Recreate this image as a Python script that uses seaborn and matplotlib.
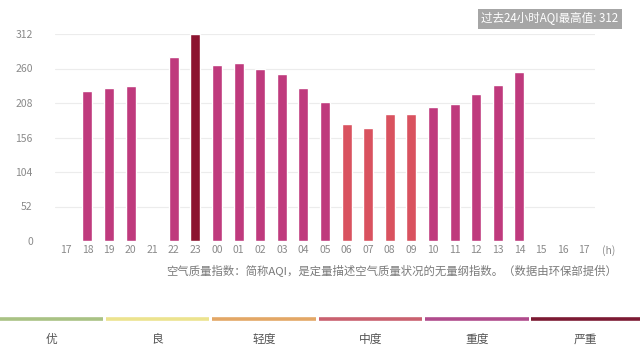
import numpy as np
import pandas as pd
import matplotlib
matplotlib.use("Agg")
import matplotlib.pyplot as plt
import seaborn as sns

# Hourly AQI over the last 24 hours (NaN = no reading)
hours = ["17", "18", "19", "20", "21", "22", "23", "00", "01", "02", "03", "04",
         "05", "06", "07", "08", "09", "10", "11", "12", "13", "14", "15", "16", "17"]
aqi = [np.nan, 226, 231, 233, np.nan, 277, 312, 265, 268, 260, 251, 231,
       210, 177, 170, 191, 191, 202, 207, 222, 235, 254, np.nan, np.nan, np.nan]

y_ticks = [0, 52, 104, 156, 208, 260, 312]

levels = ["优", "良", "轻度", "中度", "重度", "严重"]
level_colors = ["#a9c284", "#ece38e", "#e3a766", "#c9616f", "#b04b8c", "#7c1a33"]
bar_colors = {"中度": "#d9525f", "重度": "#bf3a7d", "严重": "#8c1430"}

note = "空气质量指数：简称AQI，是定量描述空气质量状况的无量纲指数。（数据由环保部提供）"
peak_label = "过去24小时AQI最高值: 312"


def level_of(v):
    if v > 300:
        return "严重"
    if v > 200:
        return "重度"
    return "中度"


df = pd.DataFrame({"slot": range(len(hours)), "aqi": aqi})
df["level"] = [level_of(v) if not np.isnan(v) else "中度" for v in aqi]

sns.set_style("white")
plt.rcParams["font.family"] = ["Noto Sans CJK SC", "DejaVu Sans"]

fig = plt.figure(figsize=(6.4, 3.45), dpi=100)
ax = fig.add_axes([55 / 640, 1 - 241 / 345, 540 / 640, 207 / 345])

for y in y_ticks[1:]:
    ax.axhline(y, color="#ececec", lw=0.8, zorder=0)

sns.barplot(data=df, x="slot", y="aqi", hue="level", palette=bar_colors,
            order=list(range(len(hours))), dodge=False, width=0.46,
            saturation=1, legend=False, ax=ax, zorder=2)

ax.set_xlim(-0.5, 24.5)
ax.set_ylim(0, 312)
ax.set_yticks(y_ticks)
ax.set_yticklabels([str(t) for t in y_ticks], fontsize=7.5, color="#8a8a8a")
ax.set_xticks(range(len(hours)))
ax.set_xticklabels(hours, fontsize=7.5, color="#8a8a8a")
ax.tick_params(axis="both", length=0)
ax.tick_params(axis="x", pad=3)
ax.tick_params(axis="y", pad=16)
ax.set_xlabel("")
ax.set_ylabel("")
for s in ax.spines.values():
    s.set_visible(False)

fig.text(609 / 640, 1 - 251 / 345, "(h)", fontsize=7.5, color="#8a8a8a",
         ha="center", va="center")

# peak value badge
fig.text(550 / 640, 1 - 19 / 345, peak_label, fontsize=8.3, color="white",
         ha="center", va="center",
         bbox=dict(boxstyle="square,pad=0.3", fc="#a6a6a6", ec="none"))

fig.text(617 / 640, 1 - 270 / 345, note, fontsize=8.2, color="#7a7a7a",
         ha="right", va="center")

# AQI level scale along the bottom
lax = fig.add_axes([0, 0, 1, 1], facecolor="none")
lax.set_xlim(0, 640)
lax.set_ylim(345, 0)
lax.axis("off")
segments = [(0, 103), (106, 209), (212, 316), (319, 422), (425, 529), (531, 640)]
for (x0, x1), c, name in zip(segments, level_colors, levels):
    lax.plot([x0, x1], [319, 319], color=c, lw=2.6, solid_capstyle="butt")
    lax.text((x0 + x1) / 2, 339, name, fontsize=8.5, color="#555555",
             ha="center", va="center")

fig.savefig("out.png", dpi=100)
